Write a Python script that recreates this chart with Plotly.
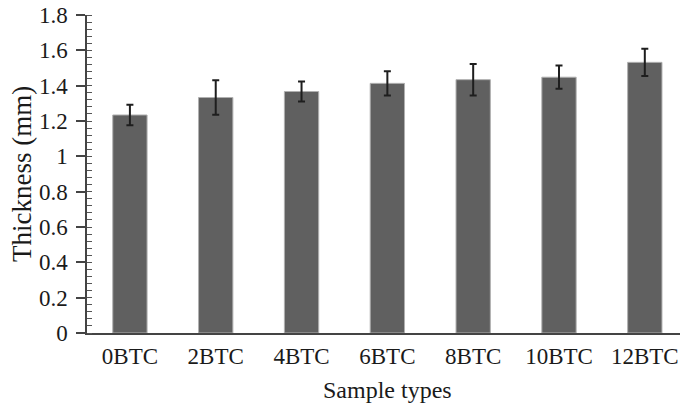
import plotly.graph_objects as go

categories = ["0BTC", "2BTC", "4BTC", "6BTC", "8BTC", "10BTC", "12BTC"]
thickness = [1.234, 1.333, 1.367, 1.413, 1.434, 1.448, 1.532]
error = [0.058, 0.098, 0.056, 0.069, 0.089, 0.066, 0.077]

y_ticks = [0, 0.2, 0.4, 0.6, 0.8, 1, 1.2, 1.4, 1.6, 1.8]
y_ticktext = ["0", "0.2", "0.4", "0.6", "0.8", "1", "1.2", "1.4", "1.6", "1.8"]

FONT = "Liberation Serif, Times New Roman, serif"
TXT = "#1a1a1a"

fig = go.Figure()
fig.add_trace(go.Bar(
    x=categories,
    y=thickness,
    width=0.4,
    marker=dict(color="#606060", line=dict(color="#b0b0b0", width=1)),
    error_y=dict(type="data", array=error, visible=True,
                 color="#1e1e1e", thickness=2, width=3.5),
    showlegend=False,
))

fig.update_layout(
    width=680, height=408,
    margin=dict(l=87, r=0, t=15, b=75),
    paper_bgcolor="white", plot_bgcolor="white",
    font=dict(family=FONT, color=TXT, size=23),
)
fig.update_xaxes(
    type="category",
    range=[-0.5, 6.41],
    showline=True, linecolor="#444444", linewidth=1.5,
    ticks="", showgrid=False,
    tickfont=dict(family=FONT, size=23, color=TXT),
    ticklabelstandoff=2,
)
fig.update_yaxes(
    range=[0, 1.8],
    tickvals=y_ticks, ticktext=y_ticktext,
    showline=True, linecolor="#444444", linewidth=1.5,
    ticks="outside", ticklen=9, tickwidth=1.5, tickcolor="#444444",
    minor=dict(dtick=0.04, ticks="inside", ticklen=5, tickwidth=1, tickcolor="#555555"),
    showgrid=False, zeroline=False,
    tickfont=dict(family=FONT, size=23, color=TXT),
    ticklabelstandoff=4,
)
fig.add_annotation(
    text="Sample types", xref="paper", yref="paper",
    x=(387 - 87) / 593, y=-0.18, yanchor="middle", xanchor="center",
    showarrow=False, font=dict(family=FONT, size=24, color=TXT),
)
fig.add_annotation(
    text="Thickness (mm)", xref="paper", yref="paper",
    x=-(87 - 22) / 593, y=0.5, xanchor="center", yanchor="middle",
    textangle=-90, showarrow=False,
    font=dict(family=FONT, size=27, color=TXT),
)

fig.write_html("out.html")
